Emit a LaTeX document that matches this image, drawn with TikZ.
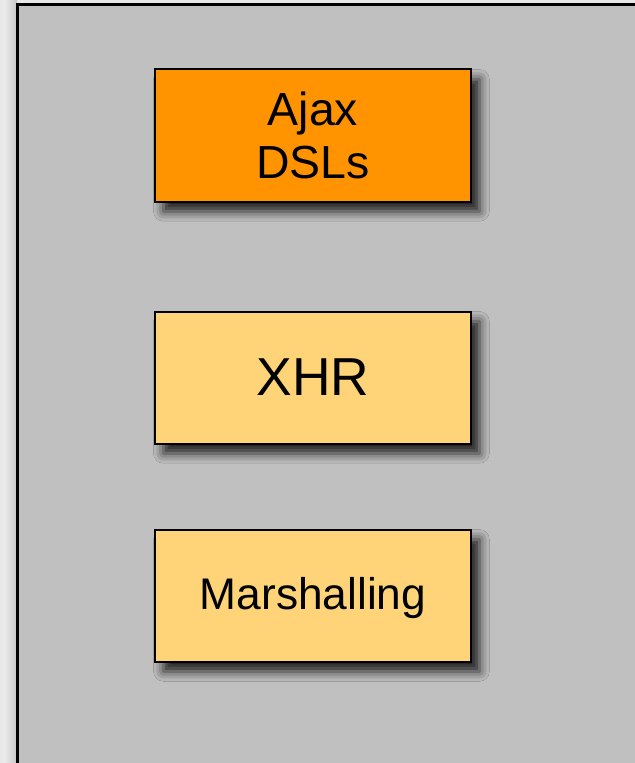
\documentclass[tikz,border=0pt]{standalone}
\usepackage{fontspec}
\setmainfont{Liberation Sans}
\usetikzlibrary{positioning, shadows.blur}
\definecolor{panelgray}{HTML}{C0C0C0}
\definecolor{ajaxorange}{HTML}{FF9300}
\definecolor{libyellow}{HTML}{FFD479}

\begin{document}
\begin{tikzpicture}[x=0.025cm,y=-0.025cm,
		layerbox/.style={draw=black,line width=1.4pt,minimum width=7.9cm,minimum height=3.3cm,align=center,
			blur shadow={shadow xshift=6pt,shadow yshift=-7pt,shadow blur radius=7pt,shadow opacity=85}}]
	\useasboundingbox (0,0) rectangle (635,763);
	\fill[gray!18] (0,0) rectangle (635,763);
	\shade[left color=gray!15,right color=gray!45] (4,0) rectangle (17,763);
	\draw[fill=panelgray,line width=1.8pt] (17.5,4.5) rectangle (660,790);
			\node[layerbox,fill=ajaxorange,font=\fontsize{33}{37.7}\selectfont] (ajax) at (313,135.5)	{Ajax\\DSLs};
			\node[layerbox,fill=libyellow,font=\fontsize{38}{40}\selectfont] (xhr) [below=2.7cm of ajax]	{XHR};
			\node[layerbox,fill=libyellow,font=\fontsize{31.5}{36}\selectfont,text depth=0.3em] (marshal) [below=2.1cm of xhr]	{Marshalling};
	\end{tikzpicture}
\end{document}
